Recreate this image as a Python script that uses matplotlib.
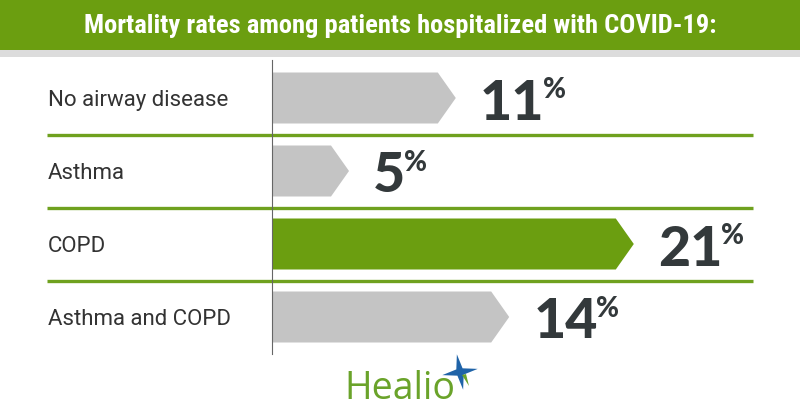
import os
import matplotlib
matplotlib.use("Agg")
import matplotlib.pyplot as plt
from matplotlib import font_manager as fm
from matplotlib.patches import Polygon, Rectangle
from matplotlib.transforms import blended_transform_factory
import numpy as np

# ---- data ----
title = "Mortality rates among patients hospitalized with COVID-19:"
categories = ["No airway disease", "Asthma", "COPD", "Asthma and COPD"]
values = [11, 5, 21, 14]
highlight = [False, False, True, False]

# ---- styles ----
GREEN = "#6b9e10"
LINE_GREEN = "#6fa11e"
GRAY_BAR = "#c4c4c4"
DARK = "#33393b"
W, H = 800, 420

def find_font(pred_list):
    files = [f.fname for f in fm.fontManager.ttflist]
    for pred in pred_list:
        for fn in files:
            b = os.path.basename(fn)
            if pred(b):
                return fn
    return None

cond_bold = find_font([
    lambda b: b.startswith("RobotoCondensed") and "Bold" in b and "Italic" not in b,
    lambda b: "Condensed" in b and "Bold" in b and "Oblique" not in b and "Italic" not in b,
])
title_fp = fm.FontProperties(fname=cond_bold) if cond_bold else fm.FontProperties(family="Roboto", weight="bold")

black_font = find_font([
    lambda b: b in ("Lato-Black.ttf", "Lato-Heavy.ttf"),
    lambda b: b in ("Roboto-Black.ttf", "Inter-Black.ttf"),
    lambda b: b in ("Lato-ExtraBold.ttf", "Roboto-ExtraBold.ttf", "Inter-ExtraBold.ttf"),
    lambda b: b == "Lato-Bold.ttf",
])
num_fp = fm.FontProperties(fname=black_font) if black_font else fm.FontProperties(family="Lato", weight="bold")

fig = plt.figure(figsize=(W / 100, H / 100), dpi=100)
fig.patch.set_facecolor("white")

# header banner
fig.add_artist(Rectangle((0, 1 - 50 / H), 1, 50 / H, transform=fig.transFigure,
                         facecolor=GREEN, edgecolor="none", zorder=0))
fig.add_artist(Rectangle((0, 1 - 57 / H), 1, 7 / H, transform=fig.transFigure,
                         facecolor="#dcdcdc", edgecolor="none", zorder=0))
title_txt = fig.text(0.5, 1 - 26 / H, title, ha="center", va="center", color="white",
                     fontproperties=title_fp, fontsize=18)

# main axes: value 0 at pixel 260, 17.8 px per unit; axis line at pixel 272
px_per_unit = 17.8
zero_px = 260
left_px, right_px = 272, 800
top_px, bot_px = 60, 354
ax = fig.add_axes([left_px / W, 1 - bot_px / H, (right_px - left_px) / W, (bot_px - top_px) / H])
x0 = (left_px - zero_px) / px_per_unit
ax.set_xlim(x0, (right_px - zero_px) / px_per_unit)
row_px = 73.0
first_center = 98.0
ax.set_ylim((bot_px - first_center) / row_px, (top_px - first_center) / row_px)
ax.set_facecolor("none")
for s in ["top", "right", "bottom"]:
    ax.spines[s].set_visible(False)
ax.spines["left"].set_color("#666666")
ax.spines["left"].set_linewidth(0.8)
ax.spines["left"].set_zorder(5)
ax.set_xticks([])
ax.set_yticks([])

half_h = 25.5 / row_px
tip = 18 / px_per_unit

for i, (v, hl) in enumerate(zip(values, highlight)):
    pts = [(x0, i - half_h), (v - tip, i - half_h), (v, i), (v - tip, i + half_h), (x0, i + half_h)]
    ax.add_patch(Polygon(pts, closed=True, facecolor=GREEN if hl else GRAY_BAR,
                         edgecolor="none", zorder=2))
    t = ax.text(v + 24 / px_per_unit, i + 21.5 / row_px, f"{v}", ha="left", va="baseline",
                color=DARK, fontproperties=num_fp, fontsize=40, zorder=3)
    ax.annotate("%", xy=(1, 1), xycoords=t, xytext=(-1, 1), textcoords="offset points",
                ha="left", va="top", color=DARK, fontproperties=num_fp, fontsize=20)

# separator lines
btrans = blended_transform_factory(fig.transFigure, ax.transData)
for i in range(len(categories) - 1):
    ax.plot([47 / W, 753 / W], [i + 0.5, i + 0.5], transform=btrans, color=LINE_GREEN,
            lw=2.4, clip_on=False, zorder=4, solid_capstyle="butt")

# category labels
for i, c in enumerate(categories):
    ax.text(48 / W, i + 8 / row_px, c, transform=btrans, ha="left", va="baseline",
            color="#333333", family="Roboto", fontsize=16)

# Healio logo
fig.text(344 / W, 1 - 399 / H, "Healio", ha="left", va="baseline", color="#6aa32a",
         family="Open Sans", fontsize=27)
cx, cy = 460, 372
ang = np.deg2rad(np.arange(8) * 45 + 100)
rad = np.array([18, 4.5] * 4)
star = [((cx + r * np.cos(a)) / W, 1 - (cy - r * np.sin(a)) / H) for r, a in zip(rad, ang)]
fig.add_artist(Polygon(star, closed=True, transform=fig.transFigure, facecolor="#1f63a8",
                       edgecolor="none"))
gstar = [((cx + 2) / W, 1 - (cy + 3) / H), ((cx + 9) / W, 1 - (cy + 14) / H),
         ((cx + 6) / W, 1 - (cy + 2) / H)]
fig.add_artist(Polygon(gstar, closed=True, transform=fig.transFigure, facecolor="#6aa32a",
                       edgecolor="none"))

# fit title width to ~630 px
fig.canvas.draw()
bb = title_txt.get_window_extent()
title_txt.set_fontsize(18 * 630 / bb.width)

fig.savefig("out.png", dpi=100, facecolor="white")
